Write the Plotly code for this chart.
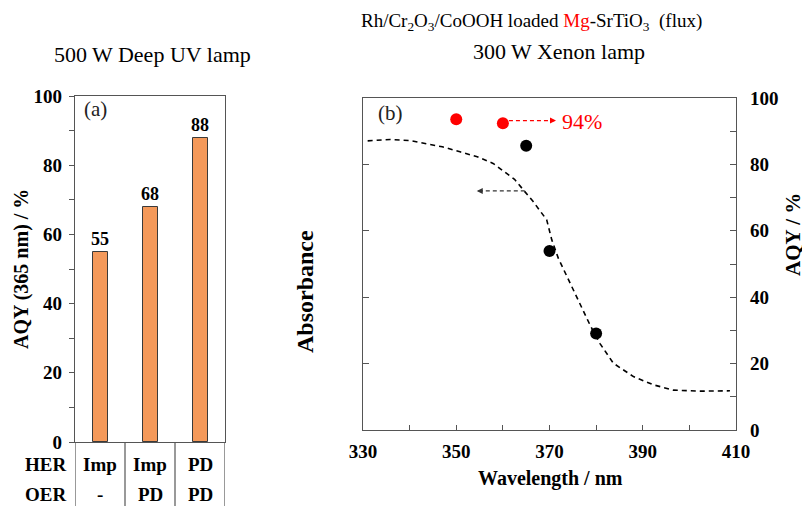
import plotly.graph_objects as go

# ---------------- data ----------------
her = ["Imp", "Imp", "PD"]
oer = ["-", "PD", "PD"]
aqy_365 = [55, 68, 88]
bar_x = [0, 1, 2]

abs_wl = [331, 335.8, 340, 343.7, 347, 350.8, 354.5, 357.9, 360.8, 362.5, 364.7,
          366.5, 369.4, 370.5, 371.9, 375.8, 378.7, 380.8, 383.7, 388.0, 392.3,
          396.6, 402.3, 408.7]
abs_val = [87.1, 87.5, 87.2, 86.3, 85.3, 83.8, 82.3, 80.3, 77.3, 75.5, 71.8,
           68.8, 63.3, 57.2, 51.7, 40.2, 31.6, 26.1, 20.1, 16.1, 13.6,
           12.0, 11.7, 11.8]

red_wl = [350, 360]
red_aqy = [93.6, 92.4]
black_wl = [365, 370, 380]
black_aqy = [85.6, 53.9, 29.1]

FONT = "Liberation Serif, Times New Roman, serif"
AX = "#555555"
W, H = 810, 506
OFF = 8  # page body margin offset

def px(x):
    return (x - OFF) / W

def py(y):
    return 1 - (y - OFF) / H

fig = go.Figure()

# ---- panel (a) ----
fig.add_trace(go.Bar(
    x=bar_x, y=aqy_365, width=0.3,
    marker=dict(color="#F4995A", line=dict(color="#3a3a3a", width=1)),
    text=["<b>%d</b>" % v for v in aqy_365], textposition="outside",
    constraintext="none",
    textfont=dict(family=FONT, size=18, color="black"),
    cliponaxis=False, xaxis="x", yaxis="y", showlegend=False,
))

# ---- panel (b) ----
fig.add_trace(go.Scatter(
    x=abs_wl, y=abs_val, mode="lines",
    line=dict(color="black", width=1.6, dash="5px,4px"),
    xaxis="x2", yaxis="y2", showlegend=False,
))
fig.add_trace(go.Scatter(
    x=red_wl, y=red_aqy, mode="markers",
    marker=dict(color="#FF0000", size=12),
    xaxis="x2", yaxis="y3", showlegend=False,
))
fig.add_trace(go.Scatter(
    x=black_wl, y=black_aqy, mode="markers",
    marker=dict(color="black", size=12),
    xaxis="x2", yaxis="y3", showlegend=False,
))

tickfont = dict(family=FONT, size=19, color="black", weight="bold")

fig.update_layout(
    width=W, height=H, margin=dict(l=0, r=0, t=0, b=0, autoexpand=False),
    paper_bgcolor="white", plot_bgcolor="white",
    bargap=0,
    xaxis=dict(domain=[px(75), px(225)], range=[-0.5, 2.5], anchor="y",
               showline=True, linecolor=AX, linewidth=1.2, mirror=True,
               showticklabels=False, ticks="", showgrid=False, zeroline=False,
               automargin=False, fixedrange=True),
    yaxis=dict(domain=[py(442), py(96)], range=[0, 100], anchor="x",
               showline=True, linecolor=AX, linewidth=1.2, mirror=True,
               tickvals=[0, 20, 40, 60, 80, 100], ticks="outside", ticklen=5,
               tickcolor=AX, tickwidth=1.2,
               minor=dict(ticks="outside", ticklen=5, dtick=10, tick0=0,
                          tickcolor=AX, tickwidth=1.2, showgrid=False),
               tickfont=tickfont, ticklabelstandoff=3, automargin=False,
               showgrid=False, zeroline=False),
    xaxis2=dict(domain=[px(363), px(736)], range=[330, 410], anchor="y2",
                showline=True, linecolor=AX, linewidth=1.2, mirror=True,
                tickvals=[330, 350, 370, 390, 410], ticks="inside", ticklen=5,
                tickcolor=AX, tickwidth=1.2,
                minor=dict(ticks="inside", ticklen=5, dtick=10, tick0=330,
                           tickcolor=AX, tickwidth=1.2, showgrid=False),
                tickfont=tickfont, ticklabelstandoff=4, automargin=False,
                showgrid=False, zeroline=False),
    yaxis2=dict(domain=[py(430), py(98)], range=[0, 100], anchor="x2",
                showline=True, linecolor=AX, linewidth=1.2,
                tickvals=[20, 40, 60, 80], ticks="inside", ticklen=6,
                tickcolor=AX, tickwidth=1.2, showticklabels=False,
                automargin=False, showgrid=False, zeroline=False),
    yaxis3=dict(domain=[py(430), py(98)], range=[0, 100], anchor="x2",
                overlaying="y2", side="right",
                showline=True, linecolor=AX, linewidth=1.2,
                tickvals=[0, 20, 40, 60, 80, 100], ticks="inside", ticklen=6,
                tickcolor=AX, tickwidth=1.2,
                minor=dict(ticks="inside", ticklen=6, dtick=10, tick0=0,
                           tickcolor=AX, tickwidth=1.2, showgrid=False),
                tickfont=tickfont, ticklabelstandoff=9, automargin=False,
                showgrid=False, zeroline=False),
)

# table lines under panel (a)
for xv in [-0.5, 0.5, 1.5, 2.5]:
    fig.add_shape(type="line", xref="x", yref="paper", x0=xv, x1=xv,
                  y0=py(520), y1=py(442), line=dict(color=AX, width=1.2))

ann = []
def text(x, y, s, size=19, color="black", bold=False, xref="paper", yref="paper",
         angle=0, xanchor="center"):
    ann.append(dict(x=x, y=y, xref=xref, yref=yref,
                    text=("<b>%s</b>" % s) if bold else s, showarrow=False,
                    textangle=angle, xanchor=xanchor, yanchor="middle",
                    font=dict(family=FONT, size=size, color=color)))

# table text
text(px(45), py(464), "HER", bold=True)
text(px(45), py(494), "OER", bold=True)
for i in range(3):
    text(bar_x[i], py(464), her[i], bold=True, xref="x")
    text(bar_x[i], py(494), oer[i], bold=True, xref="x")

# titles
text(px(152), py(54), "500 W Deep UV lamp", size=22)
text(px(531), py(22),
     "Rh/Cr<sub>2</sub>O<sub>3</sub>/CoOOH loaded <span style='color:#FF0000'>Mg</span>-SrTiO<sub>3</sub>  (flux)",
     size=19)
text(px(559), py(52), "300 W Xenon lamp", size=22)

# panel labels
text(px(95), py(109), "(a)", size=21, color="#222")
text(px(390), py(113), "(b)", size=21, color="#222")

# axis titles
text(px(21), py(269), "AQY (365 nm) / %", size=20, bold=True, angle=-90)
text(px(305), py(292), "Absorbance", size=24, bold=True, angle=-90)
text(px(793), py(235), "AQY / %", size=21, bold=True, angle=-90)
text(px(550), py(478), "Wavelength / nm", size=20, bold=True)

# 94% label
text(px(560), py(121), "94%", size=22, color="#FF0000", xanchor="left")

# dashed arrows
fig.add_shape(type="line", xref="x2", yref="y2", x0=364.7, x1=355.0, y0=72.0, y1=72.0,
              line=dict(color="#333", width=1.2, dash="4px,3px"))
ann.append(dict(x=354.4, y=72.0, xref="x2", yref="y2", ax=7, ay=0, text=" ",
                showarrow=True, arrowhead=2, arrowsize=1, arrowwidth=1.2,
                arrowcolor="#333", font=dict(size=1)))
fig.add_shape(type="line", xref="x2", yref="y3", x0=361.3, x1=370.8, y0=93.2, y1=93.2,
              line=dict(color="#FF0000", width=1.2, dash="4px,3px"))
ann.append(dict(x=371.4, y=93.2, xref="x2", yref="y3", ax=-7, ay=0, text=" ",
                showarrow=True, arrowhead=2, arrowsize=1, arrowwidth=1.2,
                arrowcolor="#FF0000", font=dict(size=1)))

fig.update_layout(annotations=ann)
fig.write_html("out.html")
